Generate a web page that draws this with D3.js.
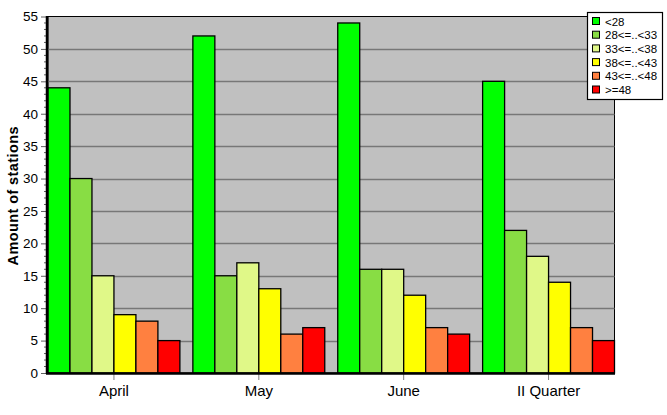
<!DOCTYPE html>
<html>
<head>
<meta charset="utf-8">
<script src="https://cdn.jsdelivr.net/npm/d3@7"></script>
<style>
html,body{margin:0;padding:0;background:#fff;}
svg{display:block;font-family:"Liberation Sans",Arial,sans-serif;}
</style>
</head>
<body>
<svg id="chart" width="667" height="415"></svg>
<script>
const categories = ["April", "May", "June", "II Quarter"];
const seriesNames = ["<28", "28<=..<33", "33<=..<38", "38<=..<43", "43<=..<48", ">=48"];
const seriesColors = ["#00ff00", "#88dd44", "#e0f888", "#ffff00", "#ff8040", "#ff0000"];
const s1 = [44, 52, 54, 45];
const s2 = [30, 15, 16, 22];
const s3 = [15, 17, 16, 18];
const s4 = [9, 13, 12, 14];
const s5 = [8, 6, 7, 7];
const s6 = [5, 7, 6, 5];
const yTicks = [0, 5, 10, 15, 20, 25, 30, 35, 40, 45, 50, 55];
const yTitle = "Amount of stations";

const series = [s1, s2, s3, s4, s5, s6];
const svg = d3.select("#chart");
const L = 48, R = 614.5, T = 16.5, B = 373;

const x0 = d3.scaleBand().domain(categories).range([L, R]).paddingInner(13/145).paddingOuter(0);
const x1 = d3.scaleBand().domain(d3.range(series.length)).range([0, x0.bandwidth()]).padding(0);
const y = d3.scaleLinear().domain([0, 55]).range([B, T]);

// plot background
svg.append("rect").attr("x", L).attr("y", T).attr("width", R - L).attr("height", B - T)
  .attr("fill", "#c0c0c0").attr("stroke", "#000").attr("stroke-width", 1);

// grid lines
svg.append("g").selectAll("line").data(yTicks.filter(d => d > 0 && d < 55)).join("line")
  .attr("x1", L).attr("x2", R).attr("y1", d => Math.round(y(d)) + 0.5).attr("y2", d => Math.round(y(d)) + 0.5)
  .attr("stroke", "#777").attr("stroke-width", 1.3);

// bars
const g = svg.append("g");
categories.forEach((c, ci) => {
  series.forEach((s, si) => {
    g.append("rect")
      .attr("x", x0(c) + x1(si))
      .attr("y", y(s[ci]))
      .attr("width", x1.bandwidth())
      .attr("height", B - y(s[ci]))
      .attr("fill", seriesColors[si])
      .attr("stroke", "#000").attr("stroke-width", 1.3);
  });
});

// y axis
const yAxis = d3.axisLeft(y).tickValues(yTicks).tickSize(6).tickPadding(3).tickFormat(d3.format("d"));
const ya = svg.append("g").attr("transform", `translate(${L - 1},0)`).call(yAxis);
ya.select(".domain").remove();
ya.selectAll(".tick line").attr("stroke", "#606060");
ya.selectAll("text").attr("font-size", 13.5).attr("fill", "#000").attr("font-family", "Liberation Sans, Arial, sans-serif");
// minor ticks
const minor = d3.range(0, 56).filter(d => d % 5 !== 0);
svg.append("g").selectAll("line").data(minor).join("line")
  .attr("x1", L - 4).attr("x2", L - 1).attr("y1", d => y(d)).attr("y2", d => y(d))
  .attr("stroke", "#606060");
svg.append("line").attr("x1", L - 1).attr("x2", L - 1).attr("y1", T - 0.5).attr("y2", B + 1)
  .attr("stroke", "#000").attr("stroke-width", 2.5);

// x axis
const xAxis = d3.axisBottom(x0).tickSize(6).tickPadding(5);
const xa = svg.append("g").attr("transform", `translate(0,${B + 1})`).call(xAxis);
xa.select(".domain").remove();
xa.selectAll(".tick line").attr("stroke", "#808080");
xa.selectAll("text").attr("font-size", 15).attr("fill", "#000").attr("font-family", "Liberation Sans, Arial, sans-serif");
svg.append("line").attr("x1", L - 2).attr("x2", R + 0.5).attr("y1", B + 0.5).attr("y2", B + 0.5)
  .attr("stroke", "#000").attr("stroke-width", 2.5);

// y title
svg.append("text").attr("transform", `translate(18,${(T + B) / 2 + 1}) rotate(-90)`)
  .attr("text-anchor", "middle").attr("font-weight", "bold").attr("font-size", 14.5)
  .attr("letter-spacing", 0.4)
  .attr("fill", "#000").text(yTitle);

// legend
const lg = svg.append("g");
lg.append("rect").attr("x", 587.5).attr("y", 12.5).attr("width", 75).attr("height", 87)
  .attr("fill", "#fff").attr("stroke", "#000").attr("stroke-width", 1.2);
seriesNames.forEach((n, i) => {
  const cy = 21.5 + i * 13.7;
  lg.append("rect").attr("x", 592.5).attr("y", cy - 4).attr("width", 7).attr("height", 7)
    .attr("fill", seriesColors[i]).attr("stroke", "#000").attr("stroke-width", 1);
  lg.append("text").attr("x", 605).attr("y", cy + 4).attr("font-size", 11.5)
    .attr("fill", "#000").text(n);
});
</script>
</body>
</html>
